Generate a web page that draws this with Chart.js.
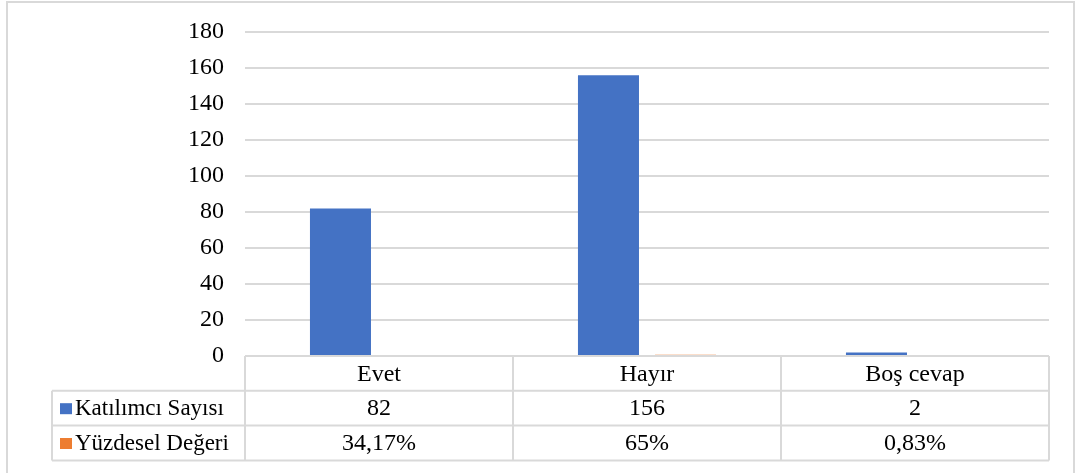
<!DOCTYPE html>
<html>
<head>
<meta charset="utf-8">
<script src="https://cdn.jsdelivr.net/npm/chart.js@4"></script>
<style>
    html, body { margin: 0; padding: 0; background: #fff; overflow: hidden; }
    #wrap { position: relative; width: 1082px; height: 473px; }
    #frame { position: absolute; left: 6px; top: 1px; width: 1069px; height: 490px; border: 2px solid #d9d9d9; box-sizing: border-box; }
    canvas { position: absolute; left: 0; top: 0; }
</style>
</head>
<body>
<div id="wrap">
    <div id="frame"></div>
    <canvas id="chart" width="1082" height="473"></canvas>
</div>
<script>
// Data
const categories = ['Evet', 'Hayır', 'Boş cevap'];
const seriesNames = ['Katılımcı Sayısı', 'Yüzdesel Değeri'];
const participantCounts = [82, 156, 2];
const percentValues = [0.3417, 0.65, 0.0083];
const yTicks = [0, 20, 40, 60, 80, 100, 120, 140, 160, 180];

const BLUE = '#4472C4';
const ORANGE = '#ED7D31';
const GRID = '#d9d9d9';
const FONT = '"Liberation Serif", "Times New Roman", serif';
const FONT_SIZE = 24;

function fmtPercent(v) {
    return String(+(v * 100).toFixed(2)).replace('.', ',') + '%';
}

// Excel-style data table under the plot
const dataTablePlugin = {
    id: 'dataTable',
    afterDraw(chart) {
        const ctx = chart.ctx;
        const area = chart.chartArea;
        const n = categories.length;
        const colW = (area.right - area.left) / n;
        const rowH = 34.8;
        const top = area.bottom;
        const legendLeft = 52;
        const rows = [
            { name: null, values: categories },
            { name: seriesNames[0], color: BLUE, values: participantCounts.map(String) },
            { name: seriesNames[1], color: ORANGE, values: percentValues.map(fmtPercent) }
        ];

        ctx.save();
        ctx.strokeStyle = GRID;
        ctx.lineWidth = 2;
        ctx.beginPath();
        // horizontal lines
        for (let r = 0; r <= rows.length; r++) {
            const y = top + r * rowH;
            const x0 = r === 0 ? area.left : legendLeft;
            ctx.moveTo(x0, y);
            ctx.lineTo(area.right, y);
        }
        // vertical lines
        for (let c = 0; c <= n; c++) {
            const x = area.left + c * colW;
            ctx.moveTo(x, top);
            ctx.lineTo(x, top + rows.length * rowH);
        }
        ctx.moveTo(legendLeft, top + rowH);
        ctx.lineTo(legendLeft, top + rows.length * rowH);
        ctx.stroke();

        ctx.fillStyle = '#000';
        ctx.textBaseline = 'middle';
        rows.forEach((row, r) => {
            const cy = top + r * rowH + rowH / 2 + 1;
            ctx.font = FONT_SIZE + 'px ' + FONT;
            ctx.textAlign = 'center';
            row.values.forEach((txt, i) => {
                ctx.fillText(txt, area.left + (i + 0.5) * colW, cy);
            });
            if (row.name) {
                ctx.fillStyle = row.color;
                ctx.fillRect(60, cy - 6, 12, 11);
                ctx.fillStyle = '#000';
                ctx.textAlign = 'left';
                ctx.font = (FONT_SIZE - 1) + 'px ' + FONT;
                ctx.fillText(row.name, 75, cy);
            }
        });
        ctx.restore();
    }
};

const chart = new Chart(document.getElementById('chart').getContext('2d'), {
    type: 'bar',
    data: {
        labels: categories,
        datasets: [
            { label: seriesNames[0], data: participantCounts, backgroundColor: BLUE },
            { label: seriesNames[1], data: percentValues, backgroundColor: ORANGE }
        ]
    },
    options: {
        responsive: false,
        animation: false,
        layout: { padding: { left: 0, right: 33, top: 32, bottom: 117 } },
        datasets: { bar: { categoryPercentage: 0.575, barPercentage: 0.792 } },
        plugins: { legend: { display: false }, tooltip: { enabled: false } },
        scales: {
            x: { display: false },
            y: {
                min: 0,
                max: 180,
                afterBuildTicks: scale => { scale.ticks = yTicks.map(v => ({ value: v })); },
                afterFit: scale => {
                    scale.width = 245;
                    scale.paddingTop = 0;
                    scale.paddingBottom = 0;
                },
                grid: { color: GRID, lineWidth: 2, drawTicks: false },
                border: { display: false },
                ticks: { color: '#000', padding: 21, font: { family: FONT, size: FONT_SIZE } }
            }
        }
    },
    plugins: [dataTablePlugin]
});
</script>
</body>
</html>
